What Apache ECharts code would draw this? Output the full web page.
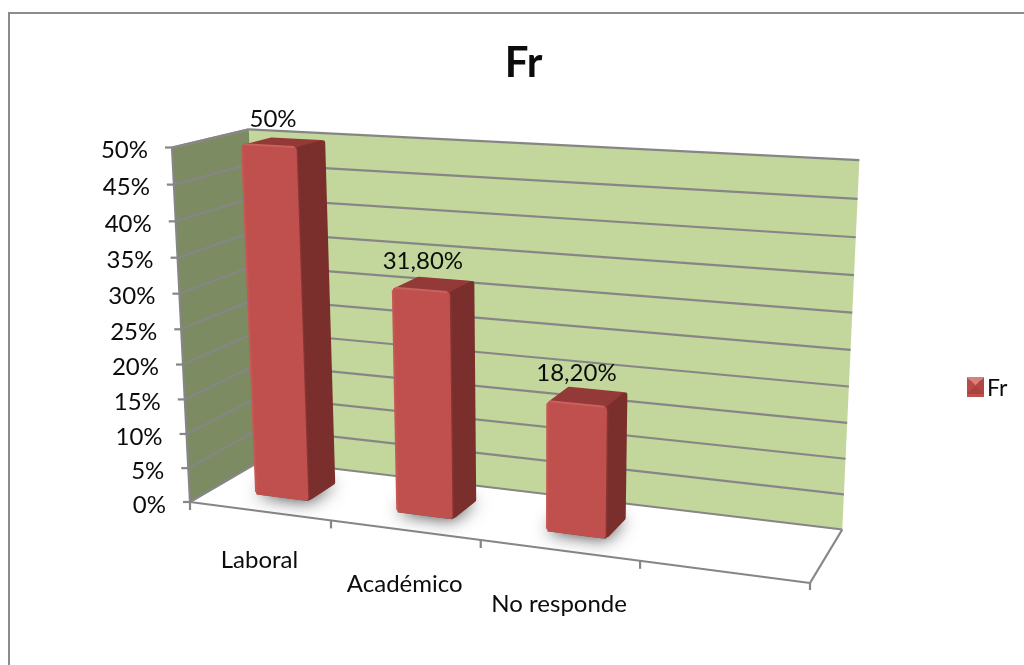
<!DOCTYPE html>
<html>
<head>
<meta charset="utf-8">
<title>Fr</title>
<script src="https://cdn.jsdelivr.net/npm/echarts@6/dist/echarts.min.js"></script>
<style>
  html, body { margin: 0; padding: 0; background: #fff; }
  #chart { width: 1024px; height: 665px; }
</style>
</head>
<body>
<div id="chart"></div>
<script>
// Chart data
const categories = ['Laboral', 'Académico', 'No responde', ''];
const seriesName = 'Fr';
const values = [50, 31.8, 18.2];
const valueLabels = ['50%', '31,80%', '18,20%'];
const yTicks = [0, 5, 10, 15, 20, 25, 30, 35, 40, 45, 50];
const yTickLabels = ['0%', '5%', '10%', '15%', '20%', '25%', '30%', '35%', '40%', '45%', '50%'];

// Perspective box: screen position of the origin and of the three axis ends,
// with the homogeneous weight of each axis end.
const origin = [190, 502], uEnd = [810, 583], vEnd = [172, 147.5], wEnd = [262, 460];
const uW = 0.883, vW = 0.95, wW = 1.075;

function project(u, v, w) {
  const d = 1 + (uW - 1) * u + (vW - 1) * v + (wW - 1) * w;
  const o = 1 - u - v - w;
  return [0, 1].map(function (k) {
    return (origin[k] * o + uW * u * uEnd[k] + vW * v * vEnd[k] + wW * w * wEnd[k]) / d;
  });
}

const FONT = '"Lato", "Open Sans", sans-serif';
const LABEL_FONT = '24px ' + FONT;
const TEXT = '#0c0c0c';
const GRID_GREY = '#868686';
const BAR_DEPTH = [0.3, 0.7];
const BAR_SHARE = 0.375;
const BAR_SHIFT = 0.002;
const CAT_LABEL_DY = [49, 54, 54];
// Column edges are rounded by insetting each face and stroking it with a round join.
const ROUND = { width: 5, u: 0.004, v: 0.007, w: 0.03 };

function line(a, b, color, width) {
  return { type: 'line', shape: { x1: a[0], y1: a[1], x2: b[0], y2: b[1] },
           style: { stroke: color || GRID_GREY, lineWidth: width || 2.2 }, silent: true };
}
function poly(points, fill, stroke, width, extra) {
  return { type: 'polygon', shape: { points: points },
           style: Object.assign({ fill: fill, stroke: stroke || fill, lineWidth: width || 0, lineJoin: 'round' }, extra || {}),
           silent: true };
}
// Converts a point of the flat cartesian system into box fractions.
function fractions(api, cat, val) {
  const p = api.coord([cat, val]);
  return [p[0] / api.getWidth(), 1 - p[1] / api.getHeight()];
}

// Walls and floor of the box
function renderBox() {
  return { type: 'group', silent: true, children: [
    poly([project(0,0,1), project(1,0,1), project(1,1,1), project(0,1,1)], '#c3d69b'),
    poly([project(0,0,0), project(0,0,1), project(0,1,1), project(0,1,0)], '#7c8b62'),
    line(project(0,0,0), project(0,1,0)),
    line(project(0,1,0), project(0,1,1), '#a0a0a0'),
    line(project(0,0,0), project(0,0,1), '#b0b0b0', 1),
    line(project(0,0,0), project(1,0,0)),
    line(project(1,0,0), project(1,0,1)),
    line(project(1,0,0), [project(1,0,0)[0], project(1,0,0)[1] + 7])
  ]};
}

// One gridline around the two walls, with its tick and label
function renderGridline(params, api) {
  const i = params.dataIndex;
  const v = fractions(api, 0, api.value(0))[1];
  const front = project(0, v, 0), corner = project(0, v, 1), end = project(1, v, 1);
  return { type: 'group', silent: true, children: [
    line(front, corner),
    line(corner, end),
    line([front[0] - 7, front[1]], front),
    { type: 'text', style: { x: front[0] - 24, y: front[1] + 3, text: yTickLabels[i], fill: TEXT,
      font: LABEL_FONT, align: 'right', verticalAlign: 'middle' } }
  ]};
}

// One category along the front of the floor: left tick and label
function renderCategory(params, api) {
  const i = api.value(0);
  const mid = fractions(api, i, 0)[0];
  const half = api.size([1, 0])[0] / api.getWidth() / 2;
  const left = project(mid - half, 0, 0), c = project(mid, 0, 0);
  return { type: 'group', silent: true, children: [
    line(left, [left[0], left[1] + 8]),
    { type: 'text', style: { x: c[0], y: c[1] + CAT_LABEL_DY[i], text: categories[i], fill: TEXT,
      font: LABEL_FONT, align: 'center', verticalAlign: 'middle' } }
  ]};
}

// One 3D column with its floor shadow and value label
function renderBar(params, api) {
  const i = api.value(0);
  const f = fractions(api, i, api.value(1));
  const band = api.size([1, 0])[0] / api.getWidth();
  const u0 = f[0] + BAR_SHIFT - band * BAR_SHARE / 2, u1 = f[0] + BAR_SHIFT + band * BAR_SHARE / 2, v = f[1];
  const w0 = BAR_DEPTH[0], w1 = BAR_DEPTH[1];
  const a0 = u0 + ROUND.u, a1 = u1 - ROUND.u, h0 = ROUND.v, h1 = v - ROUND.v, d0 = w0 + ROUND.w, d1 = w1 - ROUND.w;
  const top = project(f[0], v, 0.5);
  return { type: 'group', silent: true, children: [
    poly([project(u0,0,w0), project(u1,0,w0), project(u1,0,w1), project(u0,0,w1)],
         'rgb(80,80,80)', null, 0, { shadowBlur: 18, shadowColor: 'rgba(55,55,55,1)' }),
    poly([project(a0,h1,d0), project(a1,h1,d0), project(a1,h1,d1), project(a0,h1,d1)], '#933a38', '#933a38', ROUND.width),
    poly([project(u1,h0,d0), project(u1,h0,d1), project(u1,h1,d1), project(u1,h1,d0)], '#7a2f2d', '#7a2f2d', ROUND.width),
    line(project(u1,h0,w0), project(u1,h1,w0), '#8a3532', 3),
    poly([project(a0,h0,w0), project(a1,h0,w0), project(a1,h1,w0), project(a0,h1,w0)], '#c0504d', '#c0504d', ROUND.width),
    line(project(a0,v,w0), project(a1,v,w0), '#c9615d', 2),
    line(project(u0,h0,w0), project(u0,h1,w0), '#c55854', 2),
    { type: 'text', style: { x: top[0] - 9.5, y: top[1] - 22.5, text: valueLabels[params.dataIndex], fill: TEXT,
      font: LABEL_FONT, align: 'center', verticalAlign: 'middle' } }
  ]};
}

const chart = echarts.init(document.getElementById('chart'));
chart.setOption({
  animation: false,
  backgroundColor: '#fff',
  title: { text: seriesName, left: 518.5, top: 37, textAlign: 'center',
           textStyle: { fontFamily: FONT, fontSize: 42, fontWeight: 'bold', color: TEXT } },
  legend: { data: [seriesName], left: 962, top: 372, icon: 'rect', itemWidth: 17, itemHeight: 17, itemGap: 4,
            selectedMode: false,
            textStyle: { fontFamily: FONT, fontSize: 23, color: TEXT, padding: [0, 0, 0, -2] } },
  grid: { left: 0, right: 0, top: 0, bottom: 0, show: false },
  xAxis: { type: 'category', data: categories, show: false },
  yAxis: { type: 'value', min: 0, max: 50, interval: 5, show: false },
  series: [
    { name: 'box', type: 'custom', z: 1, clip: false, data: [[0]], renderItem: renderBox },
    { name: 'grid', type: 'custom', z: 2, clip: false, data: yTicks.map(function (t) { return [t]; }),
      encode: { y: 0 }, renderItem: renderGridline },
    { name: 'categories', type: 'custom', z: 2, clip: false, data: categories.map(function (c, i) { return [i]; }),
      encode: { x: 0 }, renderItem: renderCategory },
    { name: seriesName, type: 'custom', z: 3, clip: false, itemStyle: { color: '#c0504d' },
      data: values.map(function (v, i) { return [i, v]; }),
      encode: { x: 0, y: 1 }, renderItem: renderBar }
  ],
  // Chart frame and the bevel on the legend key
  graphic: [
    { type: 'polyline', shape: { points: [[9, 665], [9, 13], [1024, 13]] }, style: { stroke: '#8c8c8c', lineWidth: 2, fill: null }, silent: true },
    { type: 'polygon', shape: { points: [[967, 377], [984, 377], [975.5, 385.5]] }, style: { fill: '#d8807c' }, silent: true, z: 10 },
    { type: 'polygon', shape: { points: [[967, 377], [967, 394], [975.5, 385.5]] }, style: { fill: '#b84a47' }, silent: true, z: 10 },
    { type: 'polygon', shape: { points: [[984, 377], [984, 394], [975.5, 385.5]] }, style: { fill: '#b04744' }, silent: true, z: 10 },
    { type: 'polygon', shape: { points: [[967, 394], [984, 394], [975.5, 385.5]] }, style: { fill: '#a8443f' }, silent: true, z: 10 }
  ]
});
</script>
</body>
</html>
